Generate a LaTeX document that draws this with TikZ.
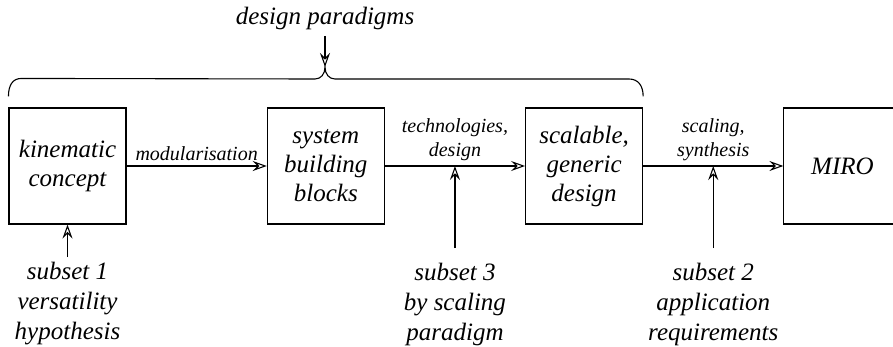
\documentclass[tikz,border=0pt]{standalone}
\usepackage{fontspec}
\setmainfont{Liberation Serif}
\usepackage{tikz}
\usetikzlibrary{arrows.meta,positioning}
\newcommand{\boxfont}{\fontsize{25}{29}\selectfont\itshape}
\newcommand{\notefont}{\fontsize{25}{30}\selectfont\itshape}
\newcommand{\flowfont}{\fontsize{20}{24}\selectfont\itshape}
\tikzstyle{block}=[draw, minimum width=117pt, minimum height=116pt, align=center, font=\boxfont]
\tikzstyle{note}=[align=center, font=\notefont, inner sep=0pt]
\tikzstyle{flow}=[align=center, font=\flowfont, inner sep=5pt]
\tikzstyle{feed}=[-{Stealth[open,length=14pt,width=10pt,inset=5pt]}]

\begin{document}
\begin{tikzpicture}[x=1pt,y=1pt,node distance=258.3pt,line width=1.1pt]
        \clip (0,0) rectangle (893,346);
        \node [block] (kin) at (67.5,180) {kinematic\\concept};
        \node [block] (sbb) [right of=kin] {system\\building\\blocks};
        \node [block] (sgd) [right of=sbb] {scalable,\\generic\\design};
        \node [block] (miro) [right of=sgd] {MIRO};
        \node [note] (par) at (325,328) {design paradigms};
        \node [note] (sub1) [below of=kin,node distance=138pt] {subset 1\\versatility\\hypothesis};
        \coordinate (cusp) at (325,279);
        \draw[feed] (kin) -- node[flow,above] {modularisation} (sbb);
        \draw[feed] (sbb) -- node[flow,above] {technologies,\\design} coordinate (tech) (sgd);
        \draw[feed] (sgd) -- node[flow,above] {scaling,\\synthesis} coordinate (scal) (miro);
        \node [note] (sub3) at (tech |- sub1) {subset 3\\by scaling\\paradigm};
        \node [note] (sub2) at (scal |- sub1) {subset 2\\application\\requirements};
        \draw[feed] ([yshift=5pt]sub1.north) -- (kin);
        \draw[feed] ([yshift=14pt]sub3.north) -- (tech);
        \draw[feed] ([yshift=14pt]sub2.north) -- (scal);
        \draw[feed] ([yshift=-6pt]par.south) -- (cusp);
        % brace over the first three blocks
        \draw ([yshift=11pt]kin.north west) .. controls +(0,11) and +(-9,0) .. ++(13,18)
            -- (315,267) .. controls (321,267) and (325,272) .. (cusp)
            .. controls (325,272) and (329,267) .. (335,267)
            -- (629,267) .. controls +(9,0) and +(0,11) .. ([yshift=11pt]sgd.north east);
\end{tikzpicture}
\end{document}
